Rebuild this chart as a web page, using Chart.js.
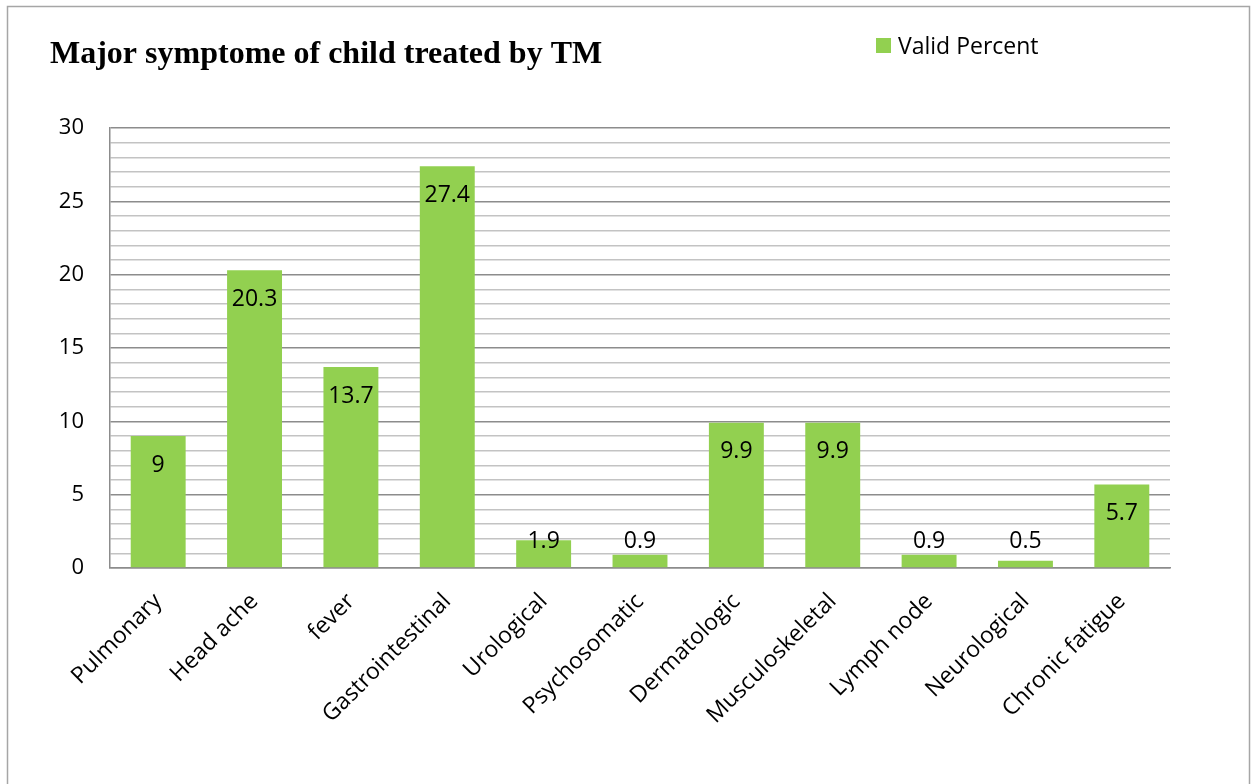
<!DOCTYPE html>
<html>
<head>
<meta charset="utf-8">
<script src="https://cdn.jsdelivr.net/npm/chart.js@4"></script>
<style>
  html, body { margin: 0; padding: 0; background: #fff; }
  #wrap { position: relative; width: 1256px; height: 784px; }
</style>
</head>
<body>
<div id="wrap"><canvas id="symptomChart" width="1256" height="784"></canvas></div>
<script>
// Symptom categories and their valid percent
const categories = ['Pulmonary', 'Head ache', 'fever', 'Gastrointestinal', 'Urological', 'Psychosomatic',
  'Dermatologic', 'Musculoskeletal', 'Lymph node', 'Neurological', 'Chronic fatigue'];
const validPercent = [9, 20.3, 13.7, 27.4, 1.9, 0.9, 9.9, 9.9, 0.9, 0.5, 5.7];
const seriesName = 'Valid Percent';
const chartTitle = 'Major symptome of child treated by TM';

const barGreen = '#92D050';
const sansFont = "'Open Sans', 'Noto Sans', sans-serif";

// Outer frame, title and legend drawn straight onto the canvas
const decorPlugin = {
  id: 'decor',
  beforeDraw(chart) {
    const ctx = chart.ctx;
    ctx.save();
    ctx.fillStyle = '#fff';
    ctx.fillRect(0, 0, chart.width, chart.height);
    ctx.strokeStyle = '#a6a6a6';
    ctx.lineWidth = 1.5;
    ctx.beginPath();
    ctx.moveTo(7.5, chart.height + 5);
    ctx.lineTo(7.5, 6.5);
    ctx.lineTo(1249.5, 6.5);
    ctx.lineTo(1249.5, chart.height + 5);
    ctx.stroke();
    ctx.restore();
  },
  afterDraw(chart) {
    const ctx = chart.ctx;
    ctx.save();
    ctx.fillStyle = '#000';
    ctx.textBaseline = 'alphabetic';
    ctx.textAlign = 'left';
    ctx.font = "bold 32px 'Liberation Serif', 'Times New Roman', serif";
    ctx.fillText(chartTitle, 50, 63);

    ctx.fillStyle = barGreen;
    ctx.fillRect(876, 38, 15, 15);
    ctx.fillStyle = '#000';
    ctx.font = '23px ' + sansFont;
    ctx.fillText(seriesName, 898, 54);
    ctx.restore();
  }
};

// Value labels: just inside the top of a bar, or lifted above short ones
const valueLabelPlugin = {
  id: 'valueLabels',
  afterDatasetsDraw(chart) {
    const ctx = chart.ctx;
    const meta = chart.getDatasetMeta(0);
    const base = chart.scales.y.getPixelForValue(0);
    ctx.save();
    ctx.fillStyle = '#000';
    ctx.font = '23px ' + sansFont;
    ctx.textAlign = 'center';
    ctx.textBaseline = 'middle';
    meta.data.forEach((bar, i) => {
      const y = Math.min(bar.y + 29, base - 27);
      ctx.fillText(String(validPercent[i]), bar.x, y);
    });
    ctx.restore();
  }
};

new Chart(document.getElementById('symptomChart'), {
  type: 'bar',
  data: {
    labels: categories,
    datasets: [{
      label: seriesName,
      data: validPercent,
      backgroundColor: barGreen,
      borderWidth: 0,
      categoryPercentage: 1,
      barPercentage: 0.57
    }]
  },
  options: {
    responsive: false,
    animation: false,
    layout: { padding: { top: 128, right: 86, left: 0, bottom: 0 } },
    plugins: {
      legend: { display: false },
      title: { display: false },
      tooltip: { enabled: false }
    },
    scales: {
      x: {
        grid: { display: false },
        border: { display: true, color: '#8c8c8c', width: 1.5 },
        ticks: {
          color: '#000',
          font: { family: sansFont, size: 23 },
          minRotation: 45,
          maxRotation: 45,
          padding: 12,
          autoSkip: false
        },
        afterFit(scale) { scale.height = 216; }
      },
      y: {
        min: 0,
        max: 30,
        grid: {
          drawTicks: false,
          color: ctx => (ctx.tick.value % 5 === 0 ? '#8c8c8c' : '#c3c3c3'),
          lineWidth: 1.5
        },
        border: { display: true, color: '#8c8c8c', width: 1.5 },
        ticks: {
          stepSize: 1,
          color: '#000',
          font: { family: sansFont, size: 22 },
          padding: 26,
          autoSkip: false,
          callback: v => (v % 5 === 0 ? v : '')
        },
        afterFit(scale) { scale.width = 110; }
      }
    }
  },
  plugins: [decorPlugin, valueLabelPlugin]
});
</script>
</body>
</html>
